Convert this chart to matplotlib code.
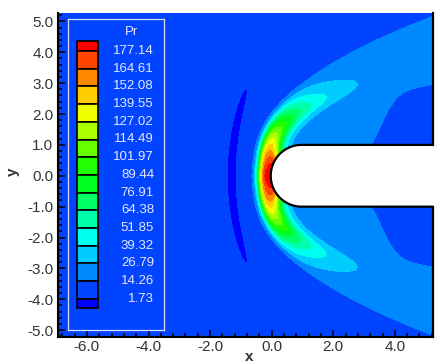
import numpy as np
import matplotlib.pyplot as plt
from matplotlib.patches import Rectangle, Polygon
from matplotlib.ticker import MultipleLocator

plt.rcParams['font.family'] = ['Liberation Sans', 'DejaVu Sans']
plt.rcParams['axes.unicode_minus'] = False

# Pr contour levels
pr_levels = [1.73, 14.26, 26.79, 39.32, 51.85, 64.38, 76.91, 89.44,
             101.97, 114.49, 127.02, 139.55, 152.08, 164.61, 177.14]
# one colour per band, from below the lowest level to above the highest
band_colors = ['#0000ff', '#0044ff', '#0088ff', '#00ccff', '#00ffee', '#00ffaa',
               '#00ff66', '#00ff22', '#22ff00', '#66ff00', '#aaff00', '#eeff00',
               '#ffcc00', '#ff8800', '#ff4400', '#ff0000']

x_ticks = [-6.0, -4.0, -2.0, 0.0, 2.0, 4.0]
y_ticks = [-5.0, -4.0, -3.0, -2.0, -1.0, 0.0, 1.0, 2.0, 3.0, 4.0, 5.0]

# bow shock: x = x0 + a2*y^2 + a4*y^4 / (1 + y^2/yc2)
shock_x0, shock_a2, shock_a4, shock_yc2 = -0.55, 0.09, 0.012, 15.0
# body: hemispherical nose on a cylinder
body_cx, body_r = 0.97, 1.0
# free stream and shock layer
p_inf = 8.0
front_pos, front_width = 0.12, 0.14
ridge_peak, ridge_len = 170.0, 2.3
ridge_d0, ridge_slope, ridge_nose = 0.15, 0.19, 0.37
inner_w0, inner_w1 = 0.45, 0.6
outer_w0, outer_w1 = 0.3, 0.3
plat_amp, plat_d0, plat_len = 13.0, 1.0, 3.0
# expansion behind the shoulder
exp_x0, exp_dx, exp_h, exp_frac = 3.9, 0.25, 1.8, 0.95
# undershoot band ahead of the shock
dip_depth, dip_x0, dip_curv, dip_width, dip_span = 11.0, -1.3, 0.06, 0.19, 3.1

xlim = (-6.93, 5.23)
ylim = (-5.22, 5.28)


def shock_x(y):
    return shock_x0 + shock_a2 * y ** 2 + shock_a4 * y ** 4 / (1 + y ** 2 / shock_yc2)


xg = np.linspace(xlim[0], xlim[1], 600)
yg = np.linspace(ylim[0], ylim[1], 520)
X, Y = np.meshgrid(xg, yg)

# distance behind the shock (D) and arc length along it (S)
sy = np.linspace(-7, 7, 1401)
sx = shock_x(sy)
arc = np.concatenate([[0.0], np.cumsum(np.hypot(np.diff(sx), np.diff(sy)))])
arc = np.abs(arc - arc[len(sy) // 2])
S = np.empty_like(X)
D = np.empty_like(X)
cols = np.arange(len(xg))
for j, yv in enumerate(yg):
    d2 = (xg[:, None] - sx[None, :]) ** 2 + (yv - sy[None, :]) ** 2
    k = d2.argmin(axis=1)
    S[j] = arc[k]
    D[j] = np.sqrt(d2[cols, k])
D *= np.sign(X - shock_x(Y))

front = 0.5 * (1 + np.tanh((D - front_pos) / front_width))
amp = ridge_peak * np.exp(-(S / ridge_len) ** 1.5)
rc = ridge_d0 + ridge_slope * S + ridge_nose * np.exp(-(S / 0.8) ** 2)
w_in = inner_w0 + inner_w1 * np.exp(-S / 1.2)
w_out = outer_w0 + outer_w1 * np.exp(-S)
G = np.where(D < rc, np.exp(-((D - rc) / w_in) ** 2), np.exp(-((D - rc) / w_out) ** 2))
plat = plat_amp * np.exp(-np.clip(D - plat_d0, 0, None) / plat_len)
expansion = 1 - exp_frac / (1 + np.exp(-(X - exp_x0) / exp_dx)) * \
    np.exp(-(np.clip(np.abs(Y) - body_r, 0, None) / exp_h) ** 2)
P = p_inf + front * (amp * G + plat) * expansion
taper = np.exp(-(np.abs(Y) / dip_span) ** 6)
P -= dip_depth * np.exp(-((X - (dip_x0 + dip_curv * Y ** 2)) / dip_width) ** 2) * taper

inside = ((X >= body_cx) & (np.abs(Y) <= body_r)) | ((X - body_cx) ** 2 + Y ** 2 <= body_r ** 2)
P = np.ma.masked_where(inside, P)

fig = plt.figure(figsize=(4.37, 3.64), dpi=100)
ax = fig.add_axes([58.3 / 437, 1 - 337 / 364, 374.4 / 437, 324.3 / 364])
bounds = [-1e3] + pr_levels + [1e3]
ax.contourf(X, Y, P, levels=bounds, colors=band_colors)

# body outline
th = np.linspace(np.pi / 2, 3 * np.pi / 2, 100)
bx = np.concatenate([[xlim[1] + 0.5], body_cx + body_r * np.cos(th), [xlim[1] + 0.5]])
by = np.concatenate([[body_r], body_r * np.sin(th), [-body_r]])
ax.add_patch(Polygon(np.column_stack([bx, by]), closed=True, facecolor='white',
                     edgecolor='none', zorder=3))
ax.plot(bx, by, color='black', lw=1.6, zorder=4)
# outflow boundary
for y0, y1 in [(body_r, ylim[1]), (ylim[0], -body_r)]:
    ax.plot([xlim[1], xlim[1]], [y0, y1], color='black', lw=1.6, zorder=4, clip_on=False)

ax.set_xlim(xlim)
ax.set_ylim(ylim)
ax.set_xticks(x_ticks)
ax.set_xticklabels([f'{v:.1f}' for v in x_ticks])
ax.set_yticks(y_ticks)
ax.set_yticklabels([f'{v:.1f}' for v in y_ticks])
ax.xaxis.set_minor_locator(MultipleLocator(0.4))
ax.yaxis.set_minor_locator(MultipleLocator(0.2))
ax.tick_params(which='both', direction='in', width=1.1, color='black',
               top=False, right=False, labelsize=11, labelcolor='#333333')
ax.tick_params(which='major', length=4.8)
ax.tick_params(which='minor', length=2.9)
ax.tick_params(axis='y', pad=3.5)
ax.tick_params(axis='x', pad=2.5)
for side in ['top', 'right']:
    ax.spines[side].set_visible(False)
for side in ['left', 'bottom']:
    ax.spines[side].set_linewidth(1.5)
    ax.spines[side].set_zorder(5)

fig.text(249 / 437, 1 - 357 / 364, 'x', fontsize=11, fontweight='bold',
         color='#333333', ha='center', va='center')
fig.text(12.5 / 437, 1 - 172 / 364, 'y', fontsize=11, fontweight='bold',
         color='#333333', ha='center', va='center', rotation=90)

# legend box
leg = fig.add_axes([68 / 437, 1 - 330 / 364, 96 / 437, 311 / 364])
leg.set_xlim(0, 96)
leg.set_ylim(311, 0)
leg.patch.set_visible(False)
leg.set_xticks([])
leg.set_yticks([])
for sp in leg.spines.values():
    sp.set_color('#dcdcf0')
    sp.set_linewidth(0.9)
leg.text(64, 13, 'Pr', fontsize=9.5, color='#e6e6ff', ha='center', va='center')
step = 17.7
top = 32
edges = [top - 10] + [top + k * step for k in range(len(pr_levels))] + [top + (len(pr_levels) - 1) * step + 9]
for i in range(len(band_colors)):
    c = band_colors[::-1][i]
    leg.add_patch(Rectangle((9, edges[i]), 21, edges[i + 1] - edges[i],
                            facecolor=c, edgecolor='black', lw=1.2))
for k, lev in enumerate(pr_levels[::-1]):
    leg.text(86, top + k * step, f'{lev:.2f}', fontsize=9.5, color='#e6e6ff',
             ha='right', va='center')

fig.savefig('out.png', dpi=100)
